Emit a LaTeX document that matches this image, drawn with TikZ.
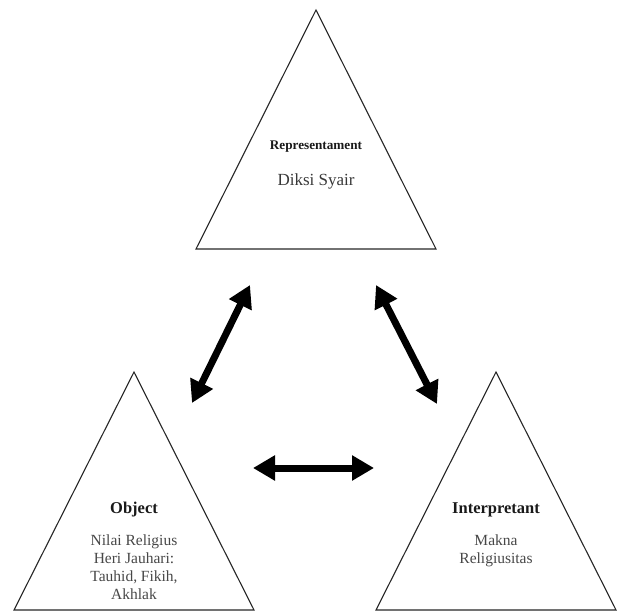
\documentclass[tikz,border=0pt]{standalone}
\usepackage{fontspec}
\setmainfont{Liberation Serif}
\usetikzlibrary{arrows.meta}
\begin{document}
\begin{tikzpicture}[x=1pt,y=-1pt,
  tri/.style={draw=black!85,line width=1.1pt,line join=miter},
  head/.style={font=\bfseries\fontsize{#1}{#1}\selectfont,text=black!90,inner sep=0pt},
  body/.style={font=\fontsize{15.5}{17.8}\selectfont,text=black!72,align=center,inner sep=0pt},
  dbl/.style={line width=7pt,{Triangle[length=22pt,width=24pt]}-{Triangle[length=22pt,width=24pt]},shorten <=0pt,shorten >=0pt}]
\useasboundingbox (0,0) rectangle (617,612);
% triangles
\draw[tri] (316,10) coordinate (tA) -- (436,249) coordinate (tR) -- (196,249) coordinate (tL) -- cycle;
\draw[tri] (134,372) coordinate (lA) -- (254,610) coordinate (lR) -- (14,610) coordinate (lL) -- cycle;
\draw[tri] (496,372) coordinate (rA) -- (616,610) coordinate (rR) -- (376,610) coordinate (rL) -- cycle;
% texts
\node[head=13.2] (rep) at (316,147) {Representament};
\node[font=\fontsize{17}{17}\selectfont,text=black!78,inner sep=0pt] (diksi) at (316,181) {Diksi Syair};
\node[head=16.5] (obj) at (134,510) {Object};
\node[body,anchor=north] (objt) at (134,535) {Nilai Religius\\Heri Jauhari:\\Tauhid, Fikih,\\Akhlak};
\node[head=16.5] (int) at (496,510) {Interpretant};
\node[body,anchor=north] (intt) at (496,535) {Makna\\Religiusitas};
% arrow endpoints
\coordinate (a1) at (192,403);
\coordinate (a2) at (250,285);
\coordinate (b1) at (376,285);
\coordinate (b2) at (437,404);
\coordinate (c1) at (253,468);
\coordinate (c2) at (374,468);
\draw[dbl] (a1) -- (a2);
\draw[dbl] (b1) -- (b2);
\draw[dbl] (c1) -- (c2);
\end{tikzpicture}
\end{document}
